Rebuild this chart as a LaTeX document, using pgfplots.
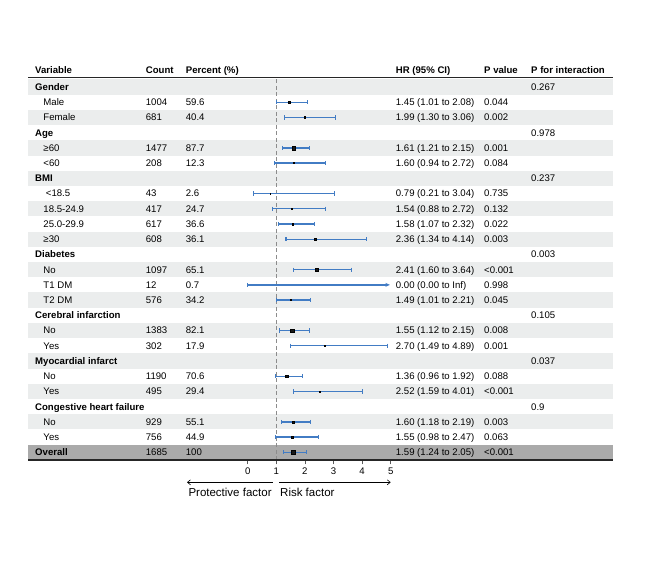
\documentclass[border=0pt]{standalone}
\usepackage{fontspec}
\setmainfont{Liberation Sans}
\usepackage{pgfplots}
\pgfplotsset{compat=1.18}
\usepackage{pgfplotstable}
\usetikzlibrary{arrows.meta}
\definecolor{ciblue}{RGB}{66,124,196}
\definecolor{bandL}{RGB}{235,237,237}
\definecolor{bandD}{RGB}{170,170,170}
\newcommand{\fs}{\fontsize{9.6bp}{11bp}\selectfont}

% 95% confidence intervals: row y, HR, lower, upper
\pgfplotstableread{
y hr lo hi
-1 1.45 1.01 2.08
-2 1.99 1.30 3.06
-4 1.61 1.21 2.15
-5 1.60 0.94 2.72
-7 0.79 0.21 3.04
-8 1.54 0.88 2.72
-9 1.58 1.07 2.32
-10 2.36 1.34 4.14
-12 2.41 1.60 3.64
-14 1.49 1.01 2.21
-16 1.55 1.12 2.15
-17 2.70 1.49 4.89
-19 1.36 0.96 1.92
-20 2.52 1.59 4.01
-22 1.60 1.18 2.19
-23 1.55 0.98 2.47
-24 1.59 1.24 2.05
}\citab

% point estimate: \pt{HR}{row y}{half side of the square}
\newcommand{\pt}[3]{\addplot[only marks, mark=square*, mark size=#3bp, mark options={draw=none, fill=black!90}] coordinates {(#1,#2)};}
% CI of row r of \citab with end caps
\newcommand{\ci}[1]{%
  \pgfplotstablegetelem{#1}{lo}\of\citab \let\clo\pgfplotsretval
  \pgfplotstablegetelem{#1}{hi}\of\citab \let\chi\pgfplotsretval
  \pgfplotstablegetelem{#1}{y}\of\citab \let\cy\pgfplotsretval
  \edef\tmp{\noexpand\addplot[ciblue, line width=1.3bp, solid, mark=|, mark size=2.1bp, mark options={solid, line width=1.1bp, ciblue}] coordinates {(\clo,\cy) (\chi,\cy)};}\tmp}

\newcommand{\grp}[3]{\pgfmathsetmacro\yy{87+15.22*#1+3.45}%
  \node[T,font=\fs\bfseries] at (35,\yy) {#2};
  \node[T] at (531,\yy) {#3};}
\newcommand{\itm}[6]{\pgfmathsetmacro\yy{87+15.22*#1+3.45}%
  \node[T] at (43.3,\yy) {#2};
  \node[T] at (145.7,\yy) {#3};
  \node[T] at (185.7,\yy) {#4};
  \node[T] at (395.7,\yy) {#5};
  \node[T] at (484,\yy) {#6};}

\begin{document}
\begin{tikzpicture}[T/.style={anchor=base west, inner sep=0pt, font=\fs}]
\begin{axis}[
  at={(28bp,-79.4bp)}, anchor=north west,
  scale only axis, width=585bp, height=380.5bp,
  xmin=-7.682, xmax=12.773, ymin=-24.5, ymax=0.5,
  axis on top,
  axis y line=none, axis x line*=bottom,
  x axis line style={line width=1.8bp, color=black!85},
  xtick={0,1,2,3,4,5}, xticklabels={0,1,2,3,4,5},
  tick align=outside, major tick length=4.5bp,
  x tick style={color=black!65, line width=0.6bp},
  xticklabel style={font=\fs, text=black},
  ytick=\empty,
]
\pgfplotsinvokeforeach{0,2,...,22}{
  \fill[bandL] (axis cs:-7.682,{-#1+0.5}) rectangle (axis cs:12.773,{-#1-0.5});
}
\fill[bandD] (axis cs:-7.682,-23.5) rectangle (axis cs:12.773,-24.5);
\addplot[color=black!45, line width=1.4bp, dash pattern=on 4bp off 2.5bp] coordinates {(1,0.5) (1,-24.5)};
% confidence intervals with end caps
\pgfplotsforeachungrouped \r in {0,...,16}{\ci{\r}}
% T1 DM: 0.00 (0.00 to Inf)
\addplot[color=ciblue, line width=1.3bp, -{Stealth[length=4.5bp,width=4bp]}] coordinates {(0,-13) (4.97,-13)};
\addplot[color=ciblue, line width=1.1bp, mark=|, mark size=2.1bp, only marks] coordinates {(0,-13)};
% point estimates
\pt{1.45}{-1}{1.15}
\pt{1.99}{-2}{0.8}
\pt{1.61}{-4}{1.9}
\pt{1.60}{-5}{0.45}
\pt{0.79}{-7}{0.3}
\pt{1.54}{-8}{0.55}
\pt{1.58}{-9}{0.75}
\pt{2.36}{-10}{0.7}
\pt{2.41}{-12}{1.3}
\pt{1.49}{-14}{0.6}
\pt{1.55}{-16}{1.7}
\pt{2.70}{-17}{0.35}
\pt{1.36}{-19}{1.3}
\pt{2.52}{-20}{0.55}
\pt{1.60}{-22}{0.95}
\pt{1.55}{-23}{0.8}
\pt{1.59}{-24}{2.1}
\end{axis}
\begin{scope}[x=1bp, y=-1bp]
\path (0,0) rectangle (669,580);
\draw[line width=1.1bp, black!85] (28,77.7) -- (613,77.7);
\node[T,font=\fs\bfseries] at (35,73.45) {Variable};
\node[T,font=\fs\bfseries] at (145.7,73.45) {Count};
\node[T,font=\fs\bfseries] at (185.7,73.45) {Percent (\%)};
\node[T,font=\fs\bfseries] at (395.7,73.45) {HR (95\% CI)};
\node[T,font=\fs\bfseries] at (484,73.45) {P value};
\node[T,font=\fs\bfseries] at (531,73.45) {P for interaction};
\grp{0}{Gender}{0.267}
\itm{1}{Male}{1004}{59.6}{1.45 (1.01 to 2.08)}{0.044}
\itm{2}{Female}{681}{40.4}{1.99 (1.30 to 3.06)}{0.002}
\grp{3}{Age}{0.978}
\itm{4}{≥60}{1477}{87.7}{1.61 (1.21 to 2.15)}{0.001}
\itm{5}{<60}{208}{12.3}{1.60 (0.94 to 2.72)}{0.084}
\grp{6}{BMI}{0.237}
\itm{7}{\hspace*{2.4bp}<18.5}{43}{2.6}{0.79 (0.21 to 3.04)}{0.735}
\itm{8}{18.5-24.9}{417}{24.7}{1.54 (0.88 to 2.72)}{0.132}
\itm{9}{25.0-29.9}{617}{36.6}{1.58 (1.07 to 2.32)}{0.022}
\itm{10}{≥30}{608}{36.1}{2.36 (1.34 to 4.14)}{0.003}
\grp{11}{Diabetes}{0.003}
\itm{12}{No}{1097}{65.1}{2.41 (1.60 to 3.64)}{<0.001}
\itm{13}{T1 DM}{12}{0.7}{0.00 (0.00 to Inf)}{0.998}
\itm{14}{T2 DM}{576}{34.2}{1.49 (1.01 to 2.21)}{0.045}
\grp{15}{Cerebral infarction}{0.105}
\itm{16}{No}{1383}{82.1}{1.55 (1.12 to 2.15)}{0.008}
\itm{17}{Yes}{302}{17.9}{2.70 (1.49 to 4.89)}{0.001}
\grp{18}{Myocardial infarct}{0.037}
\itm{19}{No}{1190}{70.6}{1.36 (0.96 to 1.92)}{0.088}
\itm{20}{Yes}{495}{29.4}{2.52 (1.59 to 4.01)}{<0.001}
\grp{21}{Congestive heart failure}{0.9}
\itm{22}{No}{929}{55.1}{1.60 (1.18 to 2.19)}{0.003}
\itm{23}{Yes}{756}{44.9}{1.55 (0.98 to 2.47)}{0.063}
\pgfmathsetmacro\yy{87+15.22*24+3.45}
\node[T,font=\fs\bfseries] at (35,\yy) {Overall};
\node[T] at (145.7,\yy) {1685};
\node[T] at (185.7,\yy) {100};
\node[T] at (395.7,\yy) {1.59 (1.24 to 2.05)};
\node[T] at (484,\yy) {<0.001};
\draw[line width=0.6bp, -{Straight Barb[length=3bp,width=5bp]}] (272.7,482.3) -- (187,482.3);
\draw[line width=0.6bp, -{Straight Barb[length=3bp,width=5bp]}] (279.3,482.3) -- (390.7,482.3);
\node[anchor=base west, inner sep=0pt, font=\fontsize{11.5bp}{13bp}\selectfont] at (188.3,496.8) {Protective factor};
\node[anchor=base west, inner sep=0pt, font=\fontsize{11.5bp}{13bp}\selectfont] at (280,496.8) {Risk factor};
\end{scope}
\end{tikzpicture}
\end{document}
